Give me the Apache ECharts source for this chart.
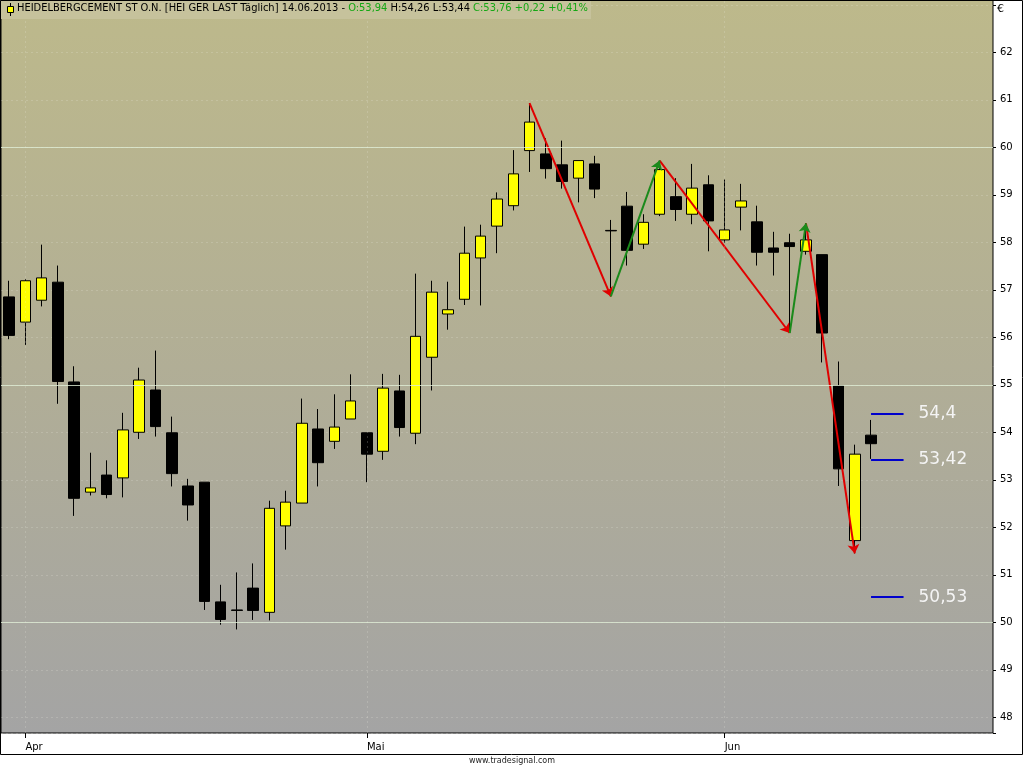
<!DOCTYPE html>
<html>
<head>
<meta charset="utf-8">
<title>HEIDELBERGCEMENT ST O.N.</title>
<script src="https://cdn.jsdelivr.net/npm/echarts@6/dist/echarts.min.js"></script>
<style>
html, body { margin: 0; padding: 0; background: #fff; }
#main { width: 1024px; height: 768px; }
</style>
</head>
<body>
<div id="main"></div>
<script>
// daily bars, HEI GER LAST
var dates = [
  '2013-03-28',
  '2013-04-02','2013-04-03','2013-04-04','2013-04-05',
  '2013-04-08','2013-04-09','2013-04-10','2013-04-11','2013-04-12',
  '2013-04-15','2013-04-16','2013-04-17','2013-04-18','2013-04-19',
  '2013-04-22','2013-04-23','2013-04-24','2013-04-25','2013-04-26',
  '2013-04-29','2013-04-30',
  '2013-05-02','2013-05-03',
  '2013-05-06','2013-05-07','2013-05-08','2013-05-09','2013-05-10',
  '2013-05-13','2013-05-14','2013-05-15','2013-05-16','2013-05-17',
  '2013-05-20','2013-05-21','2013-05-22','2013-05-23','2013-05-24',
  '2013-05-27','2013-05-28','2013-05-29','2013-05-30','2013-05-31',
  '2013-06-03','2013-06-04','2013-06-05','2013-06-06','2013-06-07',
  '2013-06-10','2013-06-11','2013-06-12','2013-06-13','2013-06-14'
];
// empty days to the right of the last bar
var futureDates = ['2013-06-17','2013-06-18','2013-06-19','2013-06-20','2013-06-21','2013-06-24','2013-06-25'];

var opens = [
  56.85,
  56.32, 56.78, 57.16, 55.06,
  52.74, 53.10, 53.04, 54.00, 54.89,
  53.99, 52.87, 52.95, 50.43, 50.26,
  50.72, 50.21, 52.03, 52.51, 54.07,
  53.81, 54.28,
  53.99, 53.60,
  54.87, 53.98, 55.58, 56.49, 56.80,
  57.67, 58.34, 58.77, 59.93, 59.86,
  59.63, 59.35, 59.65, 58.25, 58.76,
  57.96, 58.59, 58.96, 58.59, 59.21,
  58.05, 58.74, 58.43, 57.88, 57.99,
  57.81, 57.74, 54.98, 51.72, 53.94
];
var highs = [
  57.19,
  57.22, 57.95, 57.51, 55.39,
  53.57, 53.41, 54.41, 55.36, 55.72,
  54.33, 53.02, 52.95, 50.79, 51.05,
  51.24, 52.56, 52.77, 54.71, 54.49,
  54.80, 55.22,
  53.99, 55.23,
  55.21, 57.34, 57.19, 57.17, 58.33,
  58.37, 59.05, 59.94, 60.93, 60.19,
  60.14, 59.72, 59.82, 58.47, 59.06,
  58.59, 59.72, 59.35, 59.65, 59.41,
  59.32, 59.23, 58.77, 58.22, 58.18,
  58.40, 57.74, 55.49, 53.74, 54.26
];
var lows = [
  55.96,
  55.84, 56.65, 54.60, 52.24,
  52.67, 52.61, 52.63, 53.86, 53.91,
  52.86, 52.14, 50.26, 49.95, 49.85,
  50.05, 50.04, 51.53, 52.51, 52.86,
  53.65, 54.28,
  52.95, 53.42,
  53.91, 53.75, 54.88, 56.16, 56.68,
  56.67, 57.77, 58.67, 59.48, 59.34,
  59.13, 58.84, 58.93, 56.86, 57.51,
  57.86, 58.55, 58.45, 58.38, 57.81,
  57.99, 58.25, 57.51, 57.30, 56.09,
  57.74, 55.47, 52.87, 51.45, 53.44
];
var closes = [
  56.04,
  57.19, 57.25, 55.07, 52.61,
  52.83, 52.69, 54.05, 55.10, 54.12,
  53.13, 52.47, 50.44, 50.06, 50.25,
  50.25, 52.40, 52.53, 54.19, 53.36,
  54.11, 54.66,
  53.54, 54.93,
  54.10, 56.02, 56.95, 56.58, 57.77,
  58.13, 58.91, 59.44, 60.53, 59.55,
  59.28, 59.72, 59.12, 58.24, 57.83,
  58.42, 59.53, 58.69, 59.14, 58.45,
  58.26, 58.87, 57.79, 57.79, 57.91,
  58.05, 56.09, 53.23, 53.54, 53.76
];

// zigzag pivots: H = swing high, L = swing low
var zigDates = ['2013-05-16','2013-05-23','2013-05-28','2013-06-07','2013-06-10','2013-06-13'];
var zigKind  = ['H','L','H','L','H','L'];

// price levels drawn right of the last bar
var levels = [54.4, 53.42, 50.53];
var levelLabels = ['54,4', '53,42', '50,53'];

var majorLines = [50, 55, 60];
var monthNames = { '01':'Jan','02':'Feb','03':'Mär','04':'Apr','05':'Mai','06':'Jun' };

var axisDates = dates.concat(futureDates);

function isMonthStart(i) {
  return i > 0 && i < dates.length && axisDates[i].slice(5, 7) !== axisDates[i - 1].slice(5, 7);
}
var monthStarts = axisDates.filter(function (d, i) { return isMonthStart(i); });

function fmt(v) { return v.toFixed(2).replace('.', ','); }

var last = dates.length - 1;
var chg = closes[last] - closes[last - 1];
var pct = chg / closes[last - 1] * 100;
var sgn = chg >= 0 ? '+' : '-';

var candles = dates.map(function (d, i) { return [opens[i], closes[i], lows[i], highs[i]]; });

function zigPoint(k) {
  var i = dates.indexOf(zigDates[k]);
  return [zigDates[k], zigKind[k] === 'H' ? highs[i] : lows[i]];
}
var downLegs = [], upLegs = [];
for (var k = 0; k < zigDates.length - 1; k++) {
  var leg = { coords: [zigPoint(k), zigPoint(k + 1)] };
  if (zigKind[k] === 'H') downLegs.push(leg); else upLegs.push(leg);
}

var levelLines = levels.map(function (v, i) {
  return [
    { name: levelLabels[i], coord: [dates[last], v] },
    { coord: [futureDates[1], v] }
  ];
});

var titleFont = '"DejaVu Sans Condensed", "Liberation Sans", sans-serif';

var chart = echarts.init(document.getElementById('main'));

chart.setOption({
  animation: false,
  backgroundColor: '#ffffff',
  grid: {
    show: true,
    left: 1, right: 31, top: 0, bottom: 35,
    outerBoundsMode: 'none',
    borderColor: '#000', borderWidth: 1,
    backgroundColor: new echarts.graphic.LinearGradient(0, 0, 0, 1, [
      { offset: 0, color: '#bdb98b' },
      { offset: 0.5, color: '#b1ae96' },
      { offset: 1, color: '#a4a4a4' }
    ])
  },
  xAxis: {
    type: 'category',
    data: axisDates,
    boundaryGap: true,
    axisLine: { show: false },
    axisTick: {
      show: true, alignWithLabel: true, length: 5,
      interval: function (i) { return isMonthStart(i); },
      lineStyle: { color: '#000' }
    },
    axisLabel: {
      interval: function (i) { return isMonthStart(i); },
      formatter: function (v) { return monthNames[v.slice(5, 7)]; },
      align: 'left', margin: 9,
      fontFamily: 'DejaVu Sans', fontSize: 10, color: '#000'
    },
    splitLine: { show: false }
  },
  yAxis: {
    type: 'value',
    position: 'right',
    min: 47.67, max: 63.1,
    splitNumber: 15,
    axisLine: { show: false },
    axisTick: { show: true, length: 3, lineStyle: { color: '#000' } },
    axisLabel: {
      margin: 7,
      fontFamily: 'DejaVu Sans', fontSize: 10, color: '#000',
      formatter: function (v) {
        var r = Math.round(v);
        return (Math.abs(v - r) < 1e-6 && r <= 62) ? String(r) : '';
      }
    },
    splitLine: { show: true, lineStyle: { color: 'rgba(240,240,230,0.2)', type: [2, 3], width: 1 } }
  },
  series: [
    {
      // grid helpers: solid lines every 5 and month separators
      type: 'line',
      data: [],
      z: 1,
      silent: true,
      markLine: {
        symbol: 'none', silent: true, animation: false,
        label: { show: false },
        data: majorLines.map(function (v) {
          return { yAxis: v, lineStyle: { color: 'rgba(222,236,212,0.8)', type: 'solid', width: 1 } };
        }).concat(monthStarts.map(function (d) {
          return { xAxis: d, lineStyle: { color: 'rgba(240,240,230,0.2)', type: [2, 3], width: 1 } };
        }))
      }
    },
    {
      type: 'candlestick',
      data: candles,
      z: 2,
      barWidth: 11,
      itemStyle: {
        color: '#ffff00', color0: '#000000',
        borderColor: '#000000', borderColor0: '#000000',
        borderWidth: 1
      },
      markLine: {
        symbol: 'none', silent: true, animation: false,
        lineStyle: { color: '#0000cc', width: 2, type: 'solid' },
        label: {
          show: true, position: 'end', distance: 15, formatter: '{b}',
          color: '#f4f4f4', fontSize: 17, fontFamily: 'DejaVu Sans'
        },
        data: levelLines
      }
    },
    {
      type: 'lines',
      coordinateSystem: 'cartesian2d',
      z: 3,
      silent: true,
      symbol: ['none', 'arrow'],
      symbolSize: 9,
      lineStyle: { color: '#e00000', width: 2, opacity: 1 },
      data: downLegs
    },
    {
      type: 'lines',
      coordinateSystem: 'cartesian2d',
      z: 3,
      silent: true,
      symbol: ['none', 'arrow'],
      symbolSize: 9,
      lineStyle: { color: '#1b8a1b', width: 2, opacity: 1 },
      data: upLegs
    }
  ],
  graphic: [
    {
      type: 'rect', z: 100,
      shape: { x: 0.5, y: 0.5, width: 1022, height: 754 },
      style: { fill: 'none', stroke: '#000', lineWidth: 1 }
    },
    {
      type: 'rect', z: 101,
      shape: { x: 1, y: 1, width: 590, height: 18 },
      style: { fill: '#c6c29c' }
    },
    {
      type: 'line', z: 102,
      shape: { x1: 10.5, y1: 3, x2: 10.5, y2: 16 },
      style: { stroke: '#000', lineWidth: 1 }
    },
    {
      type: 'rect', z: 103,
      shape: { x: 7.5, y: 6.5, width: 6, height: 6 },
      style: { fill: '#ffff00', stroke: '#000', lineWidth: 1 }
    },
    {
      type: 'text', z: 104,
      left: 17, top: 3,
      style: {
        text: '{k|HEIDELBERGCEMENT ST O.N. [HEI GER LAST Täglich] 14.06.2013 - }' +
              '{g|O:' + fmt(opens[last]) + '}' +
              '{k| H:' + fmt(highs[last]) + ' L:' + fmt(lows[last]) + ' }' +
              '{g|C:' + fmt(closes[last]) + ' ' + sgn + fmt(Math.abs(chg)) + ' ' + sgn + fmt(Math.abs(pct)) + '%}',
        font: '11px ' + titleFont,
        rich: {
          k: { fill: '#000', fontSize: 11, fontFamily: titleFont },
          g: { fill: '#14a814', fontSize: 11, fontFamily: titleFont }
        }
      }
    },
    {
      type: 'text', z: 104,
      left: 997, top: 4,
      style: { text: '€', font: '11px "DejaVu Sans"', fill: '#000' }
    },
    {
      type: 'text', z: 104,
      left: 'center', top: 757,
      style: { text: 'www.tradesignal.com', font: '8px "DejaVu Sans"', fill: '#222' }
    }
  ]
});
</script>
</body>
</html>
